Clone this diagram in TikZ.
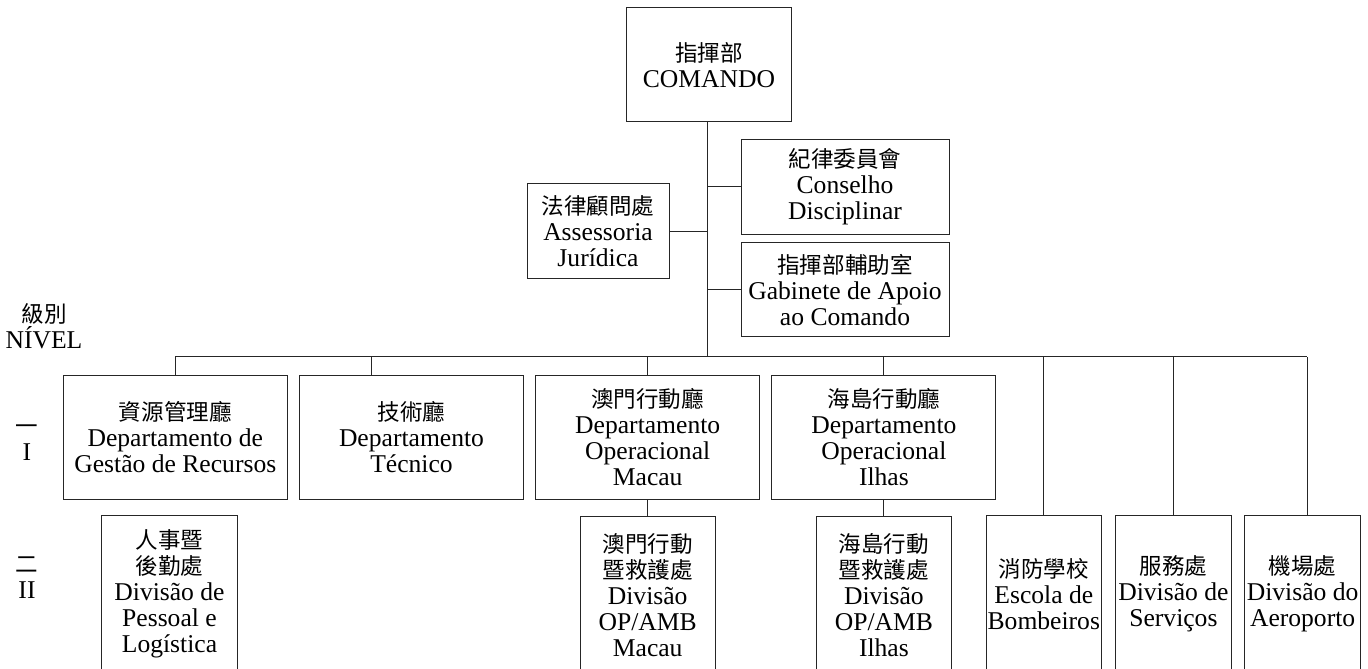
\documentclass[tikz,border=0pt]{standalone}
\usepackage{fontspec}
\setmainfont{Liberation Serif}
\newfontfamily\cjk[Scale=0.88]{Noto Sans CJK TC}
\usetikzlibrary{positioning}
\newcommand{\orgfont}{\fontsize{12.8pt}{13pt}\selectfont}
\tikzset{
    % box styles
    orgbox/.style={draw=black!85,line width=0.5pt,inner sep=0pt,align=center,font=\orgfont},
    deptbox/.style={orgbox,minimum width=112pt,minimum height=62pt},
    sidebox/.style={orgbox,minimum width=104pt,minimum height=47pt},
    divbox/.style={orgbox,minimum width=67.6pt,minimum height=78.5pt},
    smallbox/.style={orgbox,minimum width=57.8pt,minimum height=78.5pt},
    % lines and labels
    link/.style={draw=black!85,line width=0.5pt},
    level/.style={align=center,font=\orgfont,inner sep=0pt}
}

\begin{document}
\begin{tikzpicture}[x=0.5pt,y=-0.5pt]
  \useasboundingbox (0,0) rectangle (1368,668);

  % Command and the bodies beside it
  \node[orgbox,minimum width=82.5pt,minimum height=57pt] (comando) at (709,65) {{\cjk 指揮部}\\COMANDO};
  \node[sidebox] (conselho) at (845,187) {{\cjk 紀律委員會}\\Conselho\\Disciplinar};
  \node[sidebox,below=3.9pt of conselho] (gabinete) {{\cjk 指揮部輔助室}\\Gabinete de Apoio\\ao Comando};
  \node[orgbox,minimum width=71pt,minimum height=47.7pt] (assessoria) at (598,231) {{\cjk 法律顧問處}\\Assessoria\\Jurídica};

  % Level I departments
  \node[deptbox] (recursos) at (175.3,437) {{\cjk 資源管理廳}\\Departamento de\\Gestão de Recursos};
  \node[deptbox,right=5.6pt of recursos] (tecnico) {{\cjk 技術廳}\\Departamento\\Técnico};
  \node[deptbox,right=5.6pt of tecnico] (opmacau) {{\cjk 澳門行動廳}\\Departamento\\Operacional\\Macau};
  \node[deptbox,right=5.6pt of opmacau] (opilhas) {{\cjk 海島行動廳}\\Departamento\\Operacional\\Ilhas};

  % Level II divisions
  \node[divbox] (pessoal) at (169.5,594) {{\cjk 人事暨}\\{\cjk 後勤處}\\Divisão de\\Pessoal e\\Logística};
  \node[divbox,below=8.2pt of opmacau] (ambmacau) {{\cjk 澳門行動}\\{\cjk 暨救護處}\\Divisão\\OP/AMB\\Macau};
  \node[divbox,below=8.2pt of opilhas] (ambilhas) {{\cjk 海島行動}\\{\cjk 暨救護處}\\Divisão\\OP/AMB\\Ilhas};
  \node[smallbox] (escola) at (1043.8,594) {{\cjk 消防學校}\\Escola de\\Bombeiros};
  \node[smallbox,right=6.5pt of escola] (servicos) {{\cjk 服務處}\\Divisão de\\Serviços};
  \node[smallbox,right=6.3pt of servicos] (aeroporto) {{\cjk 機場處}\\Divisão do\\Aeroporto};

  % Level labels
  \node[level] (nivel) at (44,326) {{\cjk 級別}\\NÍVEL};
  \node[level] (nivelI) at (27,442.5) {{\cjk 一}\\I};
  \node[level] (nivelII) at (27,578) {{\cjk 二}\\II};

  % Trunk and bus
  \coordinate (bus) at (707,356.7);
  \coordinate (techdrop) at ([xshift=-20pt]tecnico.north);
  \coordinate (airdrop) at ([xshift=2.2pt]aeroporto.north);
  \draw[link] (comando.south -| bus) -- (bus);
  \draw[link] (conselho.west) -- (conselho.west -| bus);
  \draw[link] (gabinete.west) -- (gabinete.west -| bus);
  \draw[link] (assessoria.east) -- (assessoria.east -| bus);
  \draw[link] (recursos.north |- bus) -- (airdrop |- bus);

  % Drops to the units
  \foreach \n in {recursos,opmacau,opilhas,escola,servicos}
    \draw[link] (\n.north) -- (\n.north |- bus);
  \draw[link] (techdrop) -- (techdrop |- bus);
  \draw[link] (airdrop) -- (airdrop |- bus);
  \draw[link] (opmacau.south) -- (ambmacau.north);
  \draw[link] (opilhas.south) -- (ambilhas.north);
\end{tikzpicture}
\end{document}
